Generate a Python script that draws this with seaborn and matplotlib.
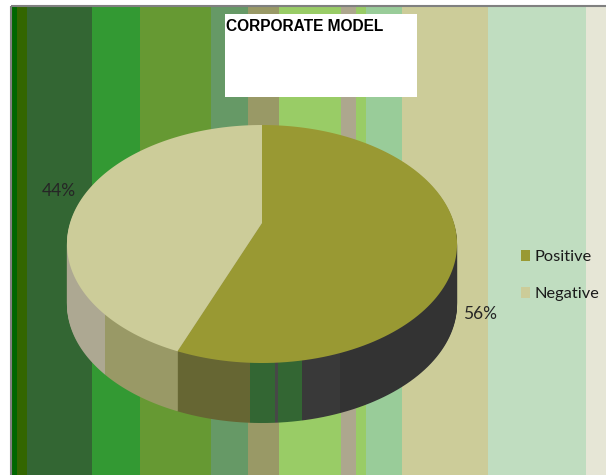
import numpy as np
import matplotlib
matplotlib.use("Agg")
import matplotlib.pyplot as plt
import matplotlib.transforms as mtransforms
from matplotlib.path import Path
from matplotlib.patches import Wedge, Rectangle
import seaborn as sns

# ---------------- data ----------------
categories = ["Positive", "Negative"]
values = [56, 44]
title = "CORPORATE MODEL"

# ---------------- style ----------------
sns.set_theme(style="white")
plt.rcParams["font.family"] = ["Lato", "DejaVu Sans"]

top_colors = sns.color_palette(["#999933", "#CCCC99"])
# side shading bands (x-range in pixels, colour) for each slice
side_bands = [
    [(0, 250, "#666633"), (250, 275, "#336633"), (275, 277.5, "#474747"),
     (277.5, 302, "#336633"), (302, 340, "#393939"), (340, 606, "#333333")],
    [(0, 105, "#ADA892"), (105, 606, "#999966")],
]
stripes = [
    (12, 17.4, "#006600"), (17.4, 27, "#336600"), (27, 92, "#336633"),
    (92, 140, "#339933"), (140, 210.7, "#669933"), (210.7, 248, "#669966"),
    (248, 279, "#999966"), (279, 341, "#99CC66"), (341, 356, "#ADA78E"),
    (356, 366, "#99CC66"), (366, 402, "#99CC99"), (402, 488, "#CCCC99"),
    (488, 585.6, "#C0DDC0"), (585.6, 606, "#E6E6D6"),
]

W, H = 606, 475
fig = plt.figure(figsize=(W / 100, H / 100), dpi=100)
fig.patch.set_facecolor("white")

# background stripes
bg = fig.add_axes([0, 0, 1, 1])
bg.set_xlim(0, W)
bg.set_ylim(H, 0)
bg.axis("off")
for x0, x1, c in stripes:
    bg.add_patch(Rectangle((x0, 6), x1 - x0, H - 6, facecolor=c, lw=0))
bg.plot([10.5, W], [5.5, 5.5], color="#808080", lw=1.5, solid_capstyle="butt")
bg.plot([10.8, 10.8], [5.5, H], color="#808080", lw=1.5, solid_capstyle="butt")
bg.add_patch(Rectangle((225, 14), 192, 83, facecolor="white", lw=0))
bg.text(226, 19, title, fontsize=11.2, fontweight="bold", color="black",
        ha="left", va="top", family=["Liberation Sans", "DejaVu Sans"])


class Persp(mtransforms.Transform):
    """Perspective view of the unit-circle pie plane, output in pixels."""
    input_dims = 2
    output_dims = 2
    is_separable = False
    has_inverse = False

    def __init__(self, X0, Y0, A, B, p, dy=0.0):
        super().__init__()
        self.X0, self.Y0, self.A, self.B, self.p, self.dy = X0, Y0, A, B, p, dy

    def transform_non_affine(self, values):
        values = np.asarray(values, dtype=float)
        u, v = values[:, 0], values[:, 1]
        w = 1.0 + self.p * v
        return np.column_stack([self.X0 + self.A * u / w,
                                self.Y0 + self.dy - self.B * v / w])

    def transform_path_non_affine(self, path):
        fine = Path(path.vertices * 1000.0, path.codes).cleaned(curves=False)
        verts = fine.vertices / 1000.0
        return Path(self.transform_non_affine(verts), fine.codes)


P = dict(X0=262, Y0=223, A=192, B=115.3, p=0.1765)
depth = 60

pax = fig.add_axes([0, 0, 1, 1])
wedges, _, autotexts = pax.pie(values, colors=top_colors, startangle=90,
                               counterclock=False, autopct="%d%%",
                               wedgeprops=dict(linewidth=0))
pax.set_xlim(0, W)
pax.set_ylim(H, 0)
pax.set_aspect("auto")
pax.axis("off")

# side of the pie (stacked layers)
for t in np.arange(depth, 0, -1.0):
    tr = Persp(dy=t, **P) + pax.transData
    for w, bands in zip(wedges, side_bands):
        for x0, x1, c in bands:
            s = Wedge((0, 0), 1, w.theta1, w.theta2, facecolor=c, lw=0)
            s.set_transform(tr)
            pax.add_patch(s)
            s.set_clip_path(Rectangle((x0, 0), x1 - x0, H, transform=pax.transData))
            s.set_zorder(1)

tr0 = Persp(**P) + pax.transData
for w in wedges:
    w.set_transform(tr0)
    w.set_zorder(3)

# percentage labels
label_pos = [(480, 314), (58.5, 191)]
for txt, (x, y) in zip(autotexts, label_pos):
    txt.set_transform(pax.transData)
    txt.set_position((x, y))
    txt.set_fontsize(12.5)
    txt.set_color("#262626")
    txt.set_ha("center")
    txt.set_va("center")
    txt.set_zorder(5)

leg = fig.legend(wedges, categories, loc="center left",
                 bbox_to_anchor=(521 / W, 1 - 275.5 / H), frameon=False,
                 fontsize=11.8, borderpad=0, borderaxespad=0,
                 handlelength=0.56, handleheight=0.68, handletextpad=0.26,
                 labelspacing=1.35)
for t in leg.get_texts():
    t.set_color("#1a1a1a")

fig.savefig("out.png", dpi=100)
